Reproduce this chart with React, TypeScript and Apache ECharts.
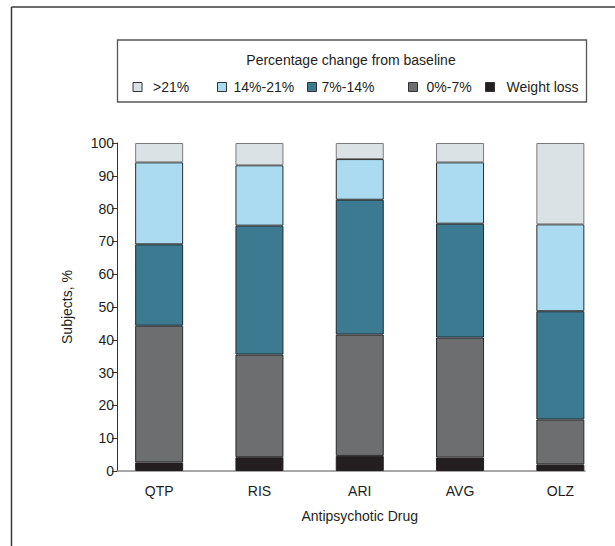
import React, { useEffect, useRef } from "react";
import * as echarts from "echarts";

const categories = ["QTP", "RIS", "ARI", "AVG", "OLZ"];
const weightLoss = [2.6, 4.2, 4.6, 4.1, 2.0];
const gain0to7 = [41.7, 31.3, 37.0, 36.6, 13.7];
const gain7to14 = [24.8, 39.3, 41.1, 34.7, 33.0];
const gain14to21 = [25.0, 18.4, 12.4, 18.7, 26.5];
const gainOver21 = [5.9, 6.8, 4.9, 5.9, 24.8];

const FONT = "'Liberation Sans', Arial, Helvetica, sans-serif";
const INK = "#231f20";
const FS = 14;

const seriesDefs = [
  { name: "Weight loss", data: weightLoss, color: "#231f20", border: "#231f20", pad: 7, icon: 480 },
  { name: "0%-7%", data: gain0to7, color: "#6d6e70", border: "#2a2a2a", pad: 4, icon: 403 },
  { name: "7%-14%", data: gain7to14, color: "#3c7a91", border: "#1f2a30", pad: 0, icon: 302 },
  { name: "14%-21%", data: gain14to21, color: "#aadbf0", border: "#2a2a2a", pad: 2, icon: 212 },
  { name: ">21%", data: gainOver21, color: "#dbe2e6", border: "#7a7a7a", pad: 6, icon: 127.5 },
];

export default function App() {
  const ref = useRef<HTMLDivElement>(null);
  useEffect(() => {
    document.body.style.margin = "0";
    const chart = echarts.init(ref.current!, null, { renderer: "svg" });
    const option: any = {
      animation: false,
      backgroundColor: "#ffffff",
      textStyle: { fontFamily: FONT, color: INK },
      grid: [
        { left: 117, right: 30, top: 143, bottom: 75 },
        { left: 109, right: 4.5, top: 143, bottom: 75 },
      ],
      xAxis: [
        {
          gridIndex: 0,
          type: "value",
          min: 0,
          max: 1,
          splitLine: { show: false },
          axisTick: { show: false },
          axisLabel: { show: false },
          axisLine: { show: true, onZero: false, lineStyle: { color: "#8a8a8a", width: 1.5 } },
        },
        {
          gridIndex: 1,
          type: "category",
          data: categories,
          boundaryGap: true,
          axisLine: { show: false },
          axisTick: { show: false },
          axisLabel: { fontFamily: FONT, fontSize: FS, color: INK, margin: 13 },
          name: "Antipsychotic Drug",
          nameLocation: "middle",
          nameGap: 38,
          nameTextStyle: { fontFamily: FONT, fontSize: FS, color: INK },
        },
      ],
      yAxis: [
        {
          gridIndex: 0,
          type: "value",
          min: 0,
          max: 100,
          interval: 10,
          splitLine: { show: false },
          axisLine: { show: true, onZero: false, lineStyle: { color: "#333", width: 1 } },
          axisTick: { show: true, inside: false, length: 5, lineStyle: { color: "#333" } },
          axisLabel: { fontFamily: FONT, fontSize: FS, color: INK, margin: 3 },
          name: "Subjects, %",
          nameLocation: "middle",
          nameGap: 43,
          nameTextStyle: { fontFamily: FONT, fontSize: FS, color: INK },
        },
        {
          gridIndex: 1,
          type: "value",
          min: 0,
          max: 100,
          show: false,
        },
      ],
      legend: seriesDefs.map((s) => ({
        data: [s.name],
        left: s.icon,
        top: 75,
        itemWidth: 9,
        itemHeight: 9,
        icon: "rect",
        selectedMode: false,
        itemStyle: { borderColor: "#333", borderWidth: 1 },
        textStyle: { fontFamily: FONT, fontSize: FS, color: INK, padding: [0, 0, 0, s.pad] },
      })),
      graphic: [
        { type: "line", shape: { x1: 11.5, y1: 7, x2: 615, y2: 7 }, style: { stroke: "#3a3a3a", lineWidth: 1.5 } },
        { type: "line", shape: { x1: 11.5, y1: 7, x2: 11.5, y2: 546 }, style: { stroke: "#3a3a3a", lineWidth: 1.5 } },
        {
          type: "rect",
          shape: { x: 117.5, y: 40, width: 469, height: 62 },
          style: { fill: "none", stroke: "#555", lineWidth: 1.3 },
        },
        {
          type: "text",
          x: 351,
          y: 60,
          style: {
            text: "Percentage change from baseline",
            fontFamily: FONT,
            fontSize: FS,
            fill: INK,
            textAlign: "center",
            textVerticalAlign: "middle",
          },
        },
      ],
      series: seriesDefs.map((s) => ({
        name: s.name,
        type: "bar",
        xAxisIndex: 1,
        yAxisIndex: 1,
        stack: "total",
        barWidth: 48,
        data: s.data,
        itemStyle: { color: s.color, borderColor: s.border, borderWidth: 1 },
      })),
    };
    chart.setOption(option);
    return () => chart.dispose();
  }, []);
  return <div ref={ref} style={{ width: 615, height: 546 }} />;
}
